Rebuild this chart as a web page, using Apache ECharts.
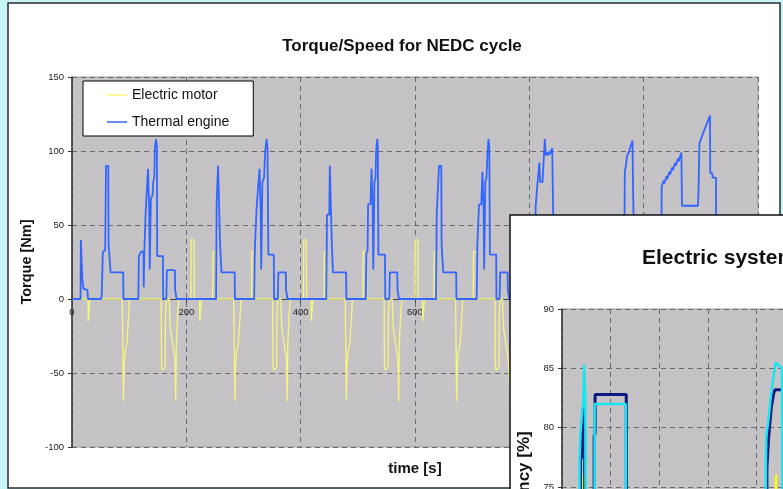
<!DOCTYPE html>
<html>
<head>
    <meta charset="utf-8">
    <title>Torque/Speed for NEDC cycle</title>
    <script src="https://cdn.jsdelivr.net/npm/echarts@6/dist/echarts.min.js"></script>
    <style>
        html, body { margin: 0; padding: 0; background: #c8f6f6; }
        #main { width: 783px; height: 489px; }
    </style>
</head>
<body>
<div id="main"></div>
<script type="text/javascript">
    // 发动机扭矩 [time s, torque Nm] - 4 ECE cycles + EUDC
    var thermalC1 = [[0,0],[15,0],[15.5,40],[17.5,40],[18,14],[20,7],[27,6],[28,0],[51,0],[52,3],[53.5,3],[54,32],[58,33],[59,33],[59.5,90],[63.5,90],[64,37],[67,37],[67.5,18],[89.5,18],[90,0],[116,0],[117,29],[121,32],[125,32],[125.5,8],[126,8],[126.5,32],[128,32],[129,60],[131,61],[133,88],[134,88],[135,60],[136,20],[137,20],[138,68],[141,70],[142,79],[144,82],[145,103],[147,108],[148.5,103],[149,29],[159,29],[159.5,0],[165,0],[166,19.5],[180,19.5],[180.5,6],[182,6],[183,0],[195,0]];
    var thermalC2 = [[195,0],[252,0],[253,65],[255,66],[255.5,90],[258.5,90],[259,37],[261,37],[261.5,18],[284.5,18],[285,0],[319,0],[320,35],[322,35],[323,62],[326,62],[328,88],[329,88],[330,60],[331,20],[332,20],[333,79],[336,82],[338,100],[340.5,108],[342,102],[343.5,30],[353,30],[353.5,0],[360,0],[361,18],[374,18],[374.5,6],[376,6],[377,0],[390,0]];
    var thermalC3 = [[390,0],[445,0],[446,57],[450,57],[451,90],[454,90],[454.5,37],[456,37],[456.5,18],[479.5,18],[480,0],[514,0],[515,31],[517,33],[518,64],[522,64],[524,88],[525,88],[526,60],[527,20],[528,20],[529,79],[531,82],[532,100],[534,108],[535,102],[536,30],[547.5,30],[548,0],[555,0],[556,18],[569,18],[569.5,6],[571,6],[572,0],[585,0]];
    var thermalC4 = [[585,0],[637,0],[638,57],[641,57],[642,90],[646,90],[646.5,37],[649,37],[649.5,18],[672,18],[672.5,0],[708,0],[709,36],[711,36],[712,64],[716,64],[718,86],[719,86],[720,60],[721,20],[722,20],[723,79],[725,82],[727,100],[728.6,108],[730,102],[731,30],[742,30],[742.5,0],[748,0],[749,18],[762,18],[762.5,6],[764,6],[765,0],[780,0]];
    var thermalEudc = [[780,0],[810,0],[811,62],[813.5,62],[814,77],[817,77],[817.5,92],[818.5,92],[819,79],[823,79],[824,80],[826,100],[827,108],[828.5,108],[829,97],[832,99],[833,97],[836,100],[837,98],[840,102],[842,102],[843,24],[891,24],[892,0],[899,0],[900,14],[966,14],[967,86],[969,90],[971,97],[974,99],[977,103],[980.5,107],[981.5,72],[983,72],[984,25],[1031,25],[1031.5,76],[1035,80],[1036,78],[1040,83],[1041,81],[1045,86],[1046,84],[1050,89],[1051,87],[1055,92],[1056,90],[1060,95],[1061,93],[1066,99],[1067,63],[1095,63],[1096,74],[1097.5,105],[1102,110],[1107,115],[1112,120],[1116,124],[1116.5,85],[1120,85],[1120.5,82],[1126.5,82],[1127,0],[1180,0]];

    // 电机扭矩
    var motorC1 = [[0,0],[28,0],[28.5,-15],[31,-15],[31.5,0],[88,0],[88.5,-20],[90,-69],[91,-45],[93,-35],[96,-30],[99,-12],[100.5,0],[156,0],[156.5,-45],[158,-48],[163,-46],[163.5,-10],[165,0],[170,0],[172,-20],[176,-30],[180,-40],[181.5,-69],[182.5,-30],[185,-10],[187,0],[195,0]];
    var motorC2 = [[195,0],[208,0],[208.5,40],[213.5,40],[214,0],[223,0],[223.5,-15],[226,-15],[226.5,0],[246,0],[246.5,32],[252,32],[252.5,0],[283,0],[283.5,-20],[285,-69],[286,-45],[288,-35],[291,-30],[294,-12],[295.5,0],[314,0],[314.5,32],[320,32],[320.5,0],[351,0],[351.5,-45],[353,-48],[358,-46],[358.5,-10],[360,0],[365,0],[367,-20],[371,-30],[375,-40],[376.5,-69],[377.5,-30],[380,-10],[382,0],[390,0]];
    var motorC3 = [[390,0],[405,0],[405.5,40],[410,40],[410.5,0],[418,0],[418.5,-15],[421,-15],[421.5,0],[441,0],[441.5,32],[446,32],[446.5,0],[478,0],[478.5,-20],[480,-69],[481,-45],[483,-35],[486,-30],[489,-12],[490.5,0],[509,0],[509.5,32],[515,32],[515.5,0],[546,0],[546.5,-45],[548,-48],[553,-46],[553.5,-10],[555,0],[560,0],[562,-20],[566,-30],[570,-40],[571.5,-69],[572.5,-30],[575,-10],[577,0],[585,0]];
    var motorC4 = [[585,0],[600,0],[600.5,40],[605,40],[605.5,0],[613,0],[613.5,-15],[616,-15],[616.5,0],[633,0],[633.5,32],[638,32],[638.5,0],[671,0],[671.5,-20],[673,-69],[674,-45],[676,-35],[679,-30],[682,-12],[683.5,0],[702,0],[702.5,32],[708,32],[708.5,0],[740,0],[740.5,-45],[742,-48],[747,-46],[747.5,-10],[749,0],[753,0],[755,-20],[759,-30],[763,-40],[767,-69],[768,-30],[771,-10],[773,0],[780,0]];
    var motorEudc = [[780,0],[891,0],[892,-30],[898,-25],[899,0],[1126.5,0],[1127,-50],[1140,-40],[1155,-30],[1160,0],[1180,0]];

    // 第二张图: 效率 [%]
    var effNavy = [[38,60],[38,77.3],[40,77.5],[41,78.8],[42,79.5],[43,81.6],[46,81.8],[46.5,79.5],[47,60],[66,60],[66,79.3],[68,79.5],[68,82.8],[132,82.8],[132,82.2],[132.5,60],[421,60],[421,76.6],[425,79.4],[430,81.7],[435,82.9],[438,83.2],[452,83.2]];
    var effCyan = [[36,60],[36,77.3],[38,79.5],[41,79.6],[42,81.6],[43.5,81.8],[44.5,84],[45.5,85.3],[47,85.3],[48,82],[49,60],[67,60],[67,82],[131,82],[131,60],[419,60],[419,77],[420,79.4],[424,80.5],[427,81.8],[430,83],[434,84.1],[439,85.5],[443,85.4],[452,85],[455,60]];
    var effYellow = [[42,60],[42.5,75.8],[45,76.4],[47,76.5],[47.5,60],[437.5,60],[438,75.8],[441,76.1],[444,76.2],[444.5,60]];

    var myChart = echarts.init(document.getElementById('main'));
    var font = 'Liberation Sans, Arial, sans-serif';
    var dashed = { color: '#6a6a6a', type: [5, 4], width: 1 };

    myChart.setOption({
        backgroundColor: '#c8f6f6',
        animation: false,
        textStyle: { fontFamily: font },
        graphic: [
            { type: 'rect', z: -10, shape: { x: 8, y: 3, width: 772, height: 485 },
              style: { fill: '#ffffff', stroke: '#2a2a2a', lineWidth: 1.5 } },
            { type: 'rect', zlevel: 1, z: -1, shape: { x: 510, y: 215, width: 300, height: 300 },
              style: { fill: '#ffffff', stroke: '#111111', lineWidth: 1.5 } }
        ],
        title: [
            { text: 'Torque/Speed for NEDC cycle', left: 402, top: 38, textAlign: 'center', padding: 0,
              textStyle: { fontSize: 17, fontWeight: 'bold', color: '#111' } },
            { text: 'time [s]', left: 415, top: 461, textAlign: 'center', padding: 0,
              textStyle: { fontSize: 15, fontWeight: 'bold', color: '#111' } },
            { text: 'Electric system efficiency', left: 642, top: 248, padding: 0, zlevel: 1, z: 5,
              textStyle: { fontSize: 21, fontWeight: 'bold', color: '#111' } }
        ],
        legend: {
            data: ['Electric motor', 'Thermal engine'],
            orient: 'vertical',
            left: 83,
            top: 81,
            padding: [6, 24, 6, 24],
            icon: 'rect',
            itemWidth: 20,
            itemHeight: 1.5,
            itemGap: 11,
            backgroundColor: '#ffffff',
            borderColor: '#000000',
            borderWidth: 1,
            textStyle: { fontSize: 14, color: '#111', lineHeight: 16 }
        },
        grid: [
            { left: 72, top: 77, width: 686, height: 370, outerBoundsMode: 'none', show: true,
              backgroundColor: '#c6c3c6', borderColor: '#9a9a9a', borderWidth: 1 },
            { left: 562, top: 309, width: 584, height: 356, outerBoundsMode: 'none', show: true, zlevel: 1, z: 1,
              backgroundColor: '#c6c3c6', borderColor: '#9a9a9a', borderWidth: 1 }
        ],
        xAxis: [
            {
                type: 'value', gridIndex: 0, min: 0, max: 1200, interval: 200,
                position: 'bottom', offset: -148,
                axisLine: { show: true, onZero: false, lineStyle: { color: '#444', width: 1 } },
                axisTick: { show: true, length: 4, lineStyle: { color: '#444' } },
                axisLabel: { fontSize: 9.5, color: '#222', margin: 8 },
                splitLine: { show: true, lineStyle: dashed }
            },
            {
                type: 'value', gridIndex: 1, min: 0, max: 1200, interval: 100, zlevel: 1, z: 2,
                axisLine: { show: true, onZero: false, lineStyle: { color: '#333' } },
                axisLabel: { fontSize: 9.5, color: '#222' },
                splitLine: { show: true, lineStyle: dashed }
            }
        ],
        yAxis: [
            {
                type: 'value', gridIndex: 0, min: -100, max: 150, interval: 50,
                name: 'Torque [Nm]', nameLocation: 'middle', nameGap: 29,
                nameTextStyle: { fontSize: 14.5, fontWeight: 'bold', color: '#111' },
                axisLine: { show: true, onZero: false, lineStyle: { color: '#333', width: 1.5 } },
                axisTick: { show: true, length: 4, lineStyle: { color: '#333' } },
                axisLabel: { fontSize: 9.5, color: '#222', margin: 8 },
                splitLine: { show: true, lineStyle: dashed }
            },
            {
                type: 'value', gridIndex: 1, min: 60, max: 90, interval: 5, zlevel: 1, z: 2,
                name: 'Efficiency [%]', nameLocation: 'middle', nameGap: 28,
                nameTextStyle: { fontSize: 17, fontWeight: 'bold', color: '#111' },
                axisLine: { show: true, onZero: false, lineStyle: { color: '#333', width: 1.5 } },
                axisTick: { show: true, length: 4, lineStyle: { color: '#333' } },
                axisLabel: { fontSize: 9.5, color: '#222', margin: 8 },
                splitLine: { show: true, lineStyle: dashed }
            }
        ],
        series: [
            {
                name: 'Electric motor', type: 'line', xAxisIndex: 0, yAxisIndex: 0,
                symbol: 'none',
                data: motorC1.concat(motorC2, motorC3, motorC4, motorEudc),
                lineStyle: { color: '#f6f67c', width: 1.3 },
                itemStyle: { color: '#f6f67c' }
            },
            {
                name: 'Thermal engine', type: 'line', xAxisIndex: 0, yAxisIndex: 0,
                symbol: 'none',
                data: thermalC1.concat(thermalC2, thermalC3, thermalC4, thermalEudc),
                lineStyle: { color: '#3366ff', width: 1.8 },
                itemStyle: { color: '#3366ff' }
            },
            {
                name: 'eff-yellow', type: 'line', xAxisIndex: 1, yAxisIndex: 1, zlevel: 1, z: 3,
                symbol: 'none', data: effYellow,
                lineStyle: { color: '#ffff00', width: 1 },
                areaStyle: { color: '#ffff00', opacity: 1, origin: 'start' }
            },
            {
                name: 'eff-navy', type: 'line', xAxisIndex: 1, yAxisIndex: 1, zlevel: 1, z: 4,
                symbol: 'none', data: effNavy,
                lineStyle: { color: '#0a1a80', width: 3 }
            },
            {
                name: 'eff-cyan', type: 'line', xAxisIndex: 1, yAxisIndex: 1, zlevel: 1, z: 5,
                symbol: 'none', data: effCyan,
                lineStyle: { color: '#19e6f0', width: 2.5 }
            }
        ]
    });
</script>
</body>
</html>
